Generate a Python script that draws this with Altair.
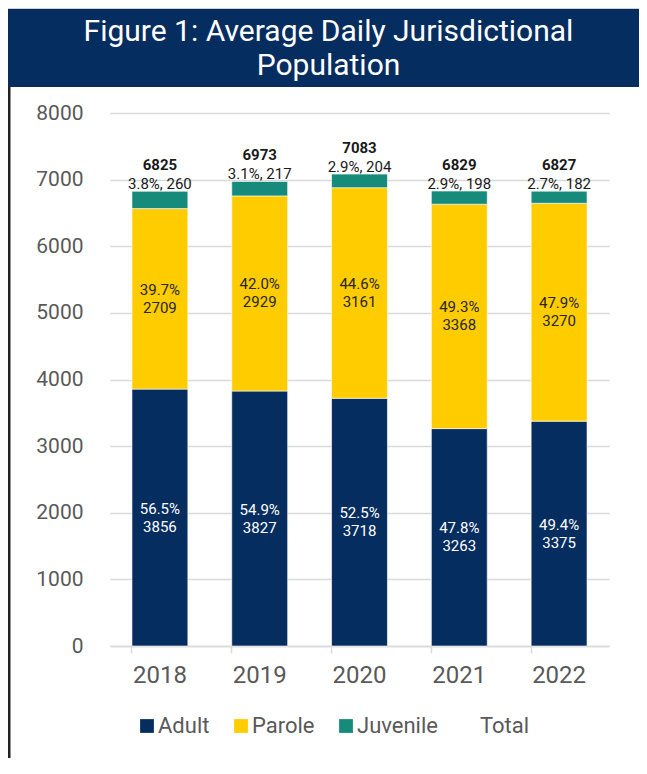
import altair as alt
import pandas as pd

years = ["2018", "2019", "2020", "2021", "2022"]
adult = [3856, 3827, 3718, 3263, 3375]
parole = [2709, 2929, 3161, 3368, 3270]
juvenile = [260, 217, 204, 198, 182]
total = [6825, 6973, 7083, 6829, 6827]
adult_pct = ["56.5%", "54.9%", "52.5%", "47.8%", "49.4%"]
parole_pct = ["39.7%", "42.0%", "44.6%", "49.3%", "47.9%"]
juv_pct = ["3.8%", "3.1%", "2.9%", "2.9%", "2.7%"]
categories = ["Adult", "Parole", "Juvenile"]
legend_items = ["Adult", "Parole", "Juvenile", "Total"]
colors = ["#062d5f", "#ffcc00", "#168b7b", "#ffffff"]
y_ticks = [0, 1000, 2000, 3000, 4000, 5000, 6000, 7000, 8000]
title_lines = ["Figure 1: Average Daily Jurisdictional", "Population"]

rows = []
for i, yr in enumerate(years):
    for k, (c, vals, pcts) in enumerate(zip(categories, [adult, parole, juvenile],
                                             [adult_pct, parole_pct, juv_pct])):
        rows.append(dict(year=yr, cat=c, ord=k, value=vals[i], pct=pcts[i]))
df = pd.DataFrame(rows)
tot = pd.DataFrame(dict(year=years, total=total, jpct=juv_pct, juv=juvenile))
one = pd.DataFrame({"a": [0]})

GRAY = "#595959"
yscale = alt.Scale(domain=[0, 8000])
xscale = alt.Scale(paddingInner=0.44, paddingOuter=0.22)

x_enc = alt.X("year:N", sort=years, title=None, scale=xscale,
              axis=alt.Axis(labelFontSize=24, labelColor=GRAY, labelFont="Roboto",
                            domainColor="#d9d9d9", domainWidth=1.5,
                            tickColor="#d9d9d9", tickWidth=1.5, tickSize=7,
                            bandPosition=0, labelPadding=10, labelAngle=0, grid=False))

bars = alt.Chart(df).mark_bar(stroke="white", strokeWidth=0.6).encode(
    x=x_enc,
    y=alt.Y("value:Q", stack="zero", scale=yscale, title=None,
            axis=alt.Axis(values=y_ticks, format="d", grid=True, gridColor="#d9d9d9",
                          gridWidth=1.5, ticks=False, domain=False, labelFontSize=21,
                          labelColor=GRAY, labelPadding=27, labelFont="Roboto")),
    color=alt.Color("cat:N", scale=alt.Scale(domain=legend_items, range=colors),
                    legend=alt.Legend(title=None, orient="none", legendX=26, legendY=602,
                                      direction="horizontal", symbolType="square",
                                      symbolSize=190, symbolStrokeWidth=0,
                                      labelFontSize=22, labelColor=GRAY, labelFont="Roboto",
                                      columnPadding=20, labelOffset=0)),
    order=alt.Order("ord:Q"),
)

inner = alt.Chart(df).transform_stack(
    stack="value", as_=["y0", "y1"], groupby=["year"],
    sort=[alt.SortField("ord", "ascending")]
).transform_filter("datum.cat != 'Juvenile'").transform_calculate(
    mid="(datum.y0 + datum.y1) / 2",
    label="datum.pct + '\\n' + datum.value",
).mark_text(lineBreak="\n", fontSize=15, font="Roboto", lineHeight=18, baseline="middle",
            dy=-9).encode(
    x=alt.X("year:N", sort=years, scale=xscale),
    y=alt.Y("mid:Q", scale=yscale),
    text="label:N",
    color=alt.condition("datum.cat == 'Adult'", alt.value("white"), alt.value("#262626")),
)

juvlab = alt.Chart(tot).transform_calculate(
    l="datum.jpct + ', ' + datum.juv"
).mark_text(baseline="alphabetic", dy=-2, fontSize=15, font="Roboto", color="#1a1a1a").encode(
    x=alt.X("year:N", sort=years, scale=xscale),
    y=alt.Y("total:Q", scale=yscale),
    text="l:N",
)

totlab = alt.Chart(tot).mark_text(baseline="alphabetic", dy=-21, fontSize=15, font="Roboto",
                                  fontWeight="bold", color="#1a1a1a").encode(
    x=alt.X("year:N", sort=years, scale=xscale),
    y=alt.Y("total:Q", scale=yscale),
    text="total:Q",
)

topline = alt.Chart(one).mark_rect(color="#d0d0d0").encode(
    x=alt.value(-102), x2=alt.value(529), y=alt.value(-105), y2=alt.value(-104))
banner = alt.Chart(one).mark_rect(color="#062d5f").encode(
    x=alt.value(-102), x2=alt.value(529), y=alt.value(-104), y2=alt.value(-26))
title1 = alt.Chart(one).mark_text(font="Roboto", fontSize=30, color="white",
                                  baseline="middle", align="center").encode(
    x=alt.value(218.5), y=alt.value(-81), text=alt.value(title_lines[0]))
title2 = alt.Chart(one).mark_text(font="Roboto", fontSize=30, color="white",
                                  baseline="middle", align="center").encode(
    x=alt.value(218.5), y=alt.value(-47), text=alt.value(title_lines[1]))
border = alt.Chart(one).mark_rect(color="#222222").encode(
    x=alt.value(-102), x2=alt.value(-99.5), y=alt.value(-26), y2=alt.value(645))

chart = alt.layer(bars, inner, juvlab, totlab, topline, banner, title1, title2, border).properties(
    width=499, height=533,
    padding={"left": 102, "top": 105, "right": 30, "bottom": 112},
    autosize=alt.AutoSizeParams(type="none"),
).configure_view(stroke=None).configure_text(font="Roboto")

chart.save("out.html", embed_options={"renderer": "svg", "actions": False})
